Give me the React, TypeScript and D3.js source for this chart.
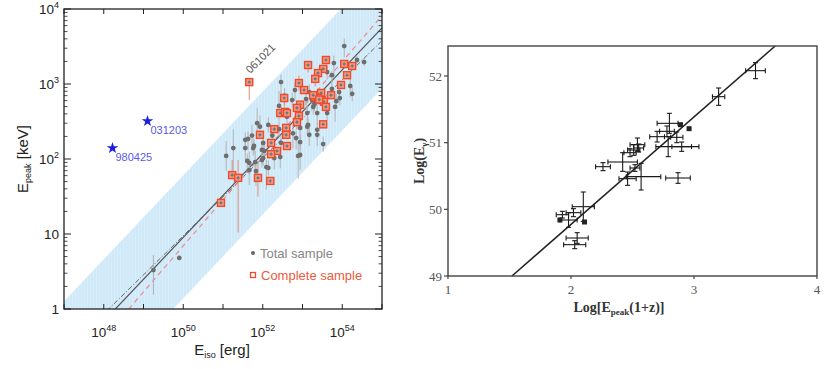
import React from 'react';
import * as d3 from 'd3';

// ---------- left panel: Epeak vs Eiso (log Eiso, Epeak keV, err lo dex, err hi dex)
const totalSample: [number, number, number, number][] = [
  [54.05, 3200, 0.15, 0.1], [53.79, 1900, 0.2, 0.1], [54.37, 2090, 0.05, 0.05], [54.55, 1960, 0.05, 0.05],
  [53.62, 1440, 0.1, 0.1], [53.74, 1310, 0.1, 0.05], [54.2, 940, 0.15, 0.1], [54.25, 740, 0.1, 0.1],
  [52.46, 1060, 0.25, 0.1], [52.81, 830, 0.15, 0.1], [53.17, 780, 0.1, 0.1], [53.74, 860, 0.1, 0.1],
  [53.92, 780, 0.1, 0.05], [53.24, 610, 0.1, 0.1], [53.09, 630, 0.15, 0.1], [53.94, 650, 0.1, 0.1],
  [52.41, 510, 0.2, 0.2], [52.74, 610, 0.1, 0.1], [53.27, 495, 0.1, 0.1], [53.82, 495, 0.2, 0.1],
  [53.37, 410, 0.15, 0.1], [53.12, 410, 0.1, 0.1], [52.61, 365, 0.1, 0.1], [53.62, 410, 0.1, 0.1],
  [52.94, 260, 0.15, 0.1], [53.12, 270, 0.1, 0.1], [53.37, 245, 0.1, 0.1], [52.76, 220, 0.2, 0.1],
  [53.17, 210, 0.15, 0.1], [51.86, 300, 0.2, 0.2], [51.93, 270, 0.15, 0.15], [51.73, 205, 0.2, 0.15],
  [51.63, 185, 0.15, 0.1], [51.56, 180, 0.1, 0.1], [51.26, 140, 0.3, 0.25], [51.56, 140, 0.15, 0.1],
  [51.08, 110, 0.2, 0.2], [51.76, 140, 0.1, 0.1], [51.98, 132, 0.15, 0.1], [51.81, 91, 0.2, 0.15],
  [51.66, 89, 0.15, 0.15], [52.01, 103, 0.1, 0.1], [52.09, 78, 0.3, 0.1], [52.14, 76, 0.1, 0.1],
  [52.44, 106, 0.15, 0.1], [52.94, 113, 0.2, 0.15], [53.52, 158, 0.1, 0.1], [51.66, 71, 0.2, 0.1],
  [51.78, 149, 0.1, 0.1], [52.01, 164, 0.15, 0.1], [51.61, 94, 0.15, 0.1], [51.83, 69, 0.2, 0.1],
  [51.98, 97, 0.1, 0.1], [52.04, 128, 0.1, 0.1], [52.29, 103, 0.15, 0.1], [52.89, 110, 0.3, 0.2],
  [52.94, 168, 0.1, 0.1], [52.84, 190, 0.15, 0.1], [53.14, 285, 0.15, 0.1], [53.37, 210, 0.15, 0.1],
  [52.41, 250, 0.1, 0.1], [52.24, 205, 0.1, 0.1], [52.46, 164, 0.1, 0.1], [52.14, 285, 0.1, 0.1],
  [53.85, 590, 0.1, 0.1], [53.3, 545, 0.1, 0.1], [52.55, 700, 0.15, 0.1],
  [49.25, 3.3, 0.33, 0.2], [49.9, 4.8, 0.02, 0.02],
];

const completeSample: [number, number, number, number][] = [
  [51.66, 1060, 0.24, 0.02], [53.59, 2090, 0.05, 0.05], [53.14, 1790, 0.1, 0.05], [53.52, 1590, 0.05, 0.05],
  [53.39, 1400, 0.05, 0.05], [54.05, 1850, 0.05, 0.05], [54.25, 1740, 0.05, 0.05], [54.12, 1310, 0.05, 0.05],
  [53.32, 1170, 0.1, 0.05], [53.97, 970, 0.05, 0.05], [52.91, 1030, 0.1, 0.1], [53.04, 830, 0.05, 0.05],
  [53.47, 760, 0.05, 0.05], [53.32, 670, 0.1, 0.05], [53.39, 650, 0.05, 0.05], [53.49, 610, 0.05, 0.05],
  [53.72, 710, 0.05, 0.05], [53.54, 580, 0.05, 0.05], [53.59, 495, 0.05, 0.05], [52.54, 650, 0.1, 0.05],
  [52.94, 530, 0.05, 0.05], [52.86, 480, 0.05, 0.05], [52.44, 410, 0.05, 0.05], [52.56, 425, 0.05, 0.05],
  [52.61, 410, 0.05, 0.05], [52.91, 375, 0.05, 0.05], [52.86, 310, 0.1, 0.05], [53.52, 290, 0.05, 0.05],
  [52.29, 250, 0.05, 0.05], [51.93, 210, 0.05, 0.05], [52.59, 260, 0.05, 0.05], [52.59, 210, 0.05, 0.05],
  [52.21, 164, 0.05, 0.05], [52.61, 149, 0.05, 0.05], [52.36, 128, 0.05, 0.05], [52.21, 116, 0.05, 0.05],
  [51.23, 61, 0.05, 0.2], [51.38, 56, 0.73, 0.24], [51.88, 56, 0.25, 0.2], [52.19, 51, 0.05, 0.05],
  [50.95, 26, 0.05, 0.05], [53.27, 710, 0.05, 0.05], [53.42, 620, 0.05, 0.05],
];

const outliers = [
  { name: '980425', logEiso: 48.22, epeak: 140 },
  { name: '031203', logEiso: 49.1, epeak: 320 },
];
const labelled061021 = { name: '061021', logEiso: 51.66, epeak: 1060 };

// [log Eiso, Epeak] endpoints
const bandUpper: [number, number][] = [[47, 1.27], [55, 38000]];
const bandLower: [number, number][] = [[47, 0.029], [55, 870]];
const fitTotal: [number, number][] = [[47, 0.19], [55, 5600]];
const fitDashDot: [number, number][] = [[47, 0.26], [55, 3780]];
const fitComplete: [number, number][] = [[47, 0.1], [55, 8160]];

const xDecades = d3.range(47, 56);
const xLabelExps = [48, 50, 52, 54];
const yDecades = [0, 1, 2, 3, 4];

// ---------- right panel: Log(Eγ) vs Log[Epeak(1+z)]  (x, y, xerr lo, xerr hi, yerr)
const ghirlanda: [number, number, number, number, number][] = [
  [3.5, 52.08, 0.08, 0.08, 0.12], [3.2, 51.69, 0.05, 0.05, 0.13], [2.8, 51.29, 0.1, 0.07, 0.15],
  [2.78, 51.17, 0.06, 0.06, 0.08], [2.7, 51.09, 0.06, 0.06, 0.08], [2.86, 51.08, 0.05, 0.05, 0.08],
  [2.79, 50.94, 0.1, 0.25, 0.15], [2.9, 50.94, 0.08, 0.08, 0.07], [2.54, 50.97, 0.06, 0.06, 0.1],
  [2.51, 50.89, 0.05, 0.05, 0.08], [2.55, 50.92, 0.04, 0.04, 0.06], [2.48, 50.85, 0.05, 0.05, 0.06],
  [2.26, 50.64, 0.06, 0.06, 0.06], [2.42, 50.71, 0.12, 0.12, 0.14], [2.52, 50.62, 0.04, 0.04, 0.05],
  [2.46, 50.46, 0.07, 0.07, 0.1], [2.57, 50.49, 0.12, 0.16, 0.2], [2.87, 50.47, 0.1, 0.1, 0.08],
  [2.1, 50.04, 0.09, 0.09, 0.22], [2.02, 49.95, 0.06, 0.06, 0.06], [1.93, 49.92, 0.05, 0.05, 0.05],
  [1.98, 49.84, 0.07, 0.07, 0.11], [2.05, 49.57, 0.09, 0.09, 0.08], [2.03, 49.47, 0.09, 0.09, 0.06],
];
const ghirlandaSquares: [number, number][] = [[2.89, 51.27], [2.96, 51.21], [1.91, 49.84], [2.11, 49.81]];
const ghirlandaFit: [number, number][] = [[1.52, 49], [3.66, 52.45]];
const rxTicks = [1, 2, 3, 4];
const ryTicks = [49, 50, 51, 52];

const sans = '"Liberation Sans", Arial, sans-serif';
const serif = '"Liberation Serif", "Times New Roman", serif';

function LeftPanel() {
  const L = { l: 64, r: 382, t: 9, b: 309 };
  const x = d3.scaleLog().domain([1e47, 1e55]).range([L.l, L.r]);
  const y = d3.scaleLog().domain([1, 1e4]).range([L.b, L.t]);
  const px = (le: number) => x(Math.pow(10, le));
  const line = d3.line<[number, number]>().x((d) => px(d[0])).y((d) => y(d[1]));
  const band = [...bandUpper, ...bandLower.slice().reverse()];
  const minors: number[] = [];
  yDecades.slice(0, -1).forEach((e) => {
    for (let k = 2; k <= 9; k++) minors.push(k * Math.pow(10, e));
  });
  const err = (d: [number, number, number, number]) => ({
    x: px(d[0]),
    y1: y(d[1] / Math.pow(10, d[2])),
    y2: y(d[1] * Math.pow(10, d[3])),
  });

  return (
    <g>
      <defs>
        <clipPath id="lclip">
          <rect x={L.l} y={L.t} width={L.r - L.l} height={L.b - L.t} />
        </clipPath>
        <pattern id="stripes" width="3" height="10" patternUnits="userSpaceOnUse">
          <rect width="3" height="10" fill="#d0e9f9" />
          <rect width="1" height="10" fill="#d9eefb" />
        </pattern>
      </defs>
      <g clipPath="url(#lclip)">
        <path d={line(band as [number, number][]) + 'Z'} fill="url(#stripes)" />
        <path d={line(fitDashDot)!} stroke="#666" strokeWidth={1} strokeDasharray="5,2,1,2" fill="none" />
        <path d={line(fitComplete)!} stroke="#f08a8a" strokeWidth={1.2} strokeDasharray="5,4" fill="none" />
        <path d={line(fitTotal)!} stroke="#555" strokeWidth={1.2} fill="none" />
        {totalSample.map((d, i) => {
          const e = err(d);
          return <line key={'te' + i} x1={e.x} x2={e.x} y1={e.y1} y2={e.y2} stroke="#b3b3b3" strokeWidth={1} />;
        })}
        {completeSample.map((d, i) => {
          const e = err(d);
          return <line key={'ce' + i} x1={e.x} x2={e.x} y1={e.y1} y2={e.y2} stroke="#e48a78" strokeWidth={1} />;
        })}
        {totalSample.map((d, i) => (
          <circle key={'t' + i} cx={px(d[0])} cy={y(d[1])} r={2.4} fill="#6e6e6e" />
        ))}
        {completeSample.map((d, i) => {
          const cx = px(d[0]);
          const cy = y(d[1]);
          return (
            <g key={'c' + i}>
              <rect x={cx - 3.5} y={cy - 3.5} width={7} height={7} fill="#f59a83" stroke="#ee4a2c" strokeWidth={1.4} />
              <line x1={cx - 2} x2={cx + 2} y1={cy} y2={cy} stroke="#888" strokeWidth={0.8} />
              <line x1={cx} x2={cx} y1={cy - 2} y2={cy + 2} stroke="#888" strokeWidth={0.8} />
              <circle cx={cx} cy={cy} r={1.3} fill="#777" />
            </g>
          );
        })}
      </g>
      {outliers.map((o) => (
        <g key={o.name}>
          <path
            d={d3.symbol(d3.symbolStar, 42)()!}
            transform={`translate(${px(o.logEiso)},${y(o.epeak)})`}
            fill="#1d1de0"
          />
          <text x={px(o.logEiso) + 3} y={y(o.epeak) + 13} fontSize={11} fill="#5a5ae6" fontFamily={sans}>
            {o.name}
          </text>
        </g>
      ))}
      <text
        transform={`translate(${px(labelled061021.logEiso) + 1},${y(labelled061021.epeak) - 8}) rotate(-45)`}
        fontSize={11}
        fill="#555"
        fontFamily={sans}
      >
        {labelled061021.name}
      </text>

      {/* legend */}
      <circle cx={253} cy={253} r={2} fill="#666" />
      <text x={260} y={258} fontSize={13} fill="#858585" fontFamily={sans}>Total sample</text>
      <rect x={250.5} y={272.5} width={5} height={5} fill="#fff" stroke="#ee4a2c" strokeWidth={1.3} />
      <text x={261} y={280} fontSize={13} fill="#ec5a3c" fontFamily={sans}>Complete sample</text>

      {/* frame & ticks */}
      <rect x={L.l} y={L.t} width={L.r - L.l} height={L.b - L.t} fill="none" stroke="#222" strokeWidth={1.3} />
      {xDecades.map((e) => (
        <g key={'xd' + e}>
          <line x1={px(e)} x2={px(e)} y1={L.b} y2={L.b - 5} stroke="#222" />
          <line x1={px(e)} x2={px(e)} y1={L.t} y2={L.t + 5} stroke="#222" />
        </g>
      ))}
      {yDecades.map((e) => (
        <g key={'yd' + e}>
          <line x1={L.l} x2={L.l + 7} y1={y(Math.pow(10, e))} y2={y(Math.pow(10, e))} stroke="#222" />
          <line x1={L.r} x2={L.r - 7} y1={y(Math.pow(10, e))} y2={y(Math.pow(10, e))} stroke="#222" />
        </g>
      ))}
      {minors.map((v) => (
        <g key={'ym' + v}>
          <line x1={L.l} x2={L.l + 3.5} y1={y(v)} y2={y(v)} stroke="#222" strokeWidth={0.8} />
          <line x1={L.r} x2={L.r - 3.5} y1={y(v)} y2={y(v)} stroke="#222" strokeWidth={0.8} />
        </g>
      ))}
      {xLabelExps.map((e) => (
        <text key={'xl' + e} x={px(e)} y={337} textAnchor="middle" fontSize={13.5} fill="#222" fontFamily={sans}>
          10<tspan dy={-6} fontSize={9}>{e}</tspan>
        </text>
      ))}
      {yDecades.map((e) => (
        <text key={'yl' + e} x={59} y={y(Math.pow(10, e)) + 5} textAnchor="end" fontSize={13.5} fill="#222" fontFamily={sans}>
          {e === 0 ? '1' : e === 1 ? '10' : (
            <>
              10<tspan dy={-6} fontSize={9}>{e}</tspan>
            </>
          )}
        </text>
      ))}
      <text x={222} y={355} textAnchor="middle" fontSize={15} fill="#222" fontFamily={sans}>
        E<tspan dy={3} fontSize={9}>iso</tspan>
        <tspan dy={-3}> [erg]</tspan>
      </text>
      <text transform="translate(28,159) rotate(-90)" textAnchor="middle" fontSize={15} fill="#222" fontFamily={sans}>
        E<tspan dy={3} fontSize={9}>peak</tspan>
        <tspan dy={-3}> [keV]</tspan>
      </text>
    </g>
  );
}

function RightPanel() {
  const R = { l: 448, r: 817, t: 46, b: 276 };
  const x = d3.scaleLinear().domain([1, 4]).range([R.l, R.r]);
  const y = d3.scaleLinear().domain([49, 52.45]).range([R.b, R.t]);
  const line = d3.line<[number, number]>().x((d) => x(d[0])).y((d) => y(d[1]));
  const cap = 2.5;
  return (
    <g>
      <path d={line(ghirlandaFit)!} stroke="#222" strokeWidth={1.6} fill="none" />
      {ghirlanda.map((d, i) => {
        const cx = x(d[0]);
        const cy = y(d[1]);
        const x1 = x(d[0] - d[2]);
        const x2 = x(d[0] + d[3]);
        const y1 = y(d[1] - d[4]);
        const y2 = y(d[1] + d[4]);
        return (
          <g key={'g' + i} stroke="#1a1a1a" strokeWidth={1.1}>
            <line x1={x1} x2={x2} y1={cy} y2={cy} />
            <line x1={cx} x2={cx} y1={y1} y2={y2} />
            <line x1={x1} x2={x1} y1={cy - cap} y2={cy + cap} />
            <line x1={x2} x2={x2} y1={cy - cap} y2={cy + cap} />
            <line x1={cx - cap} x2={cx + cap} y1={y1} y2={y1} />
            <line x1={cx - cap} x2={cx + cap} y1={y2} y2={y2} />
          </g>
        );
      })}
      {ghirlandaSquares.map((d, i) => (
        <rect key={'s' + i} x={x(d[0]) - 2.5} y={y(d[1]) - 2.5} width={5} height={5} fill="#222" />
      ))}
      <rect x={R.l} y={R.t} width={R.r - R.l} height={R.b - R.t} fill="none" stroke="#444" strokeWidth={1.4} />
      {rxTicks.map((t) => (
        <g key={'rx' + t}>
          <line x1={x(t)} x2={x(t)} y1={R.b} y2={R.b + 3} stroke="#444" strokeWidth={1.2} />
          <text x={x(t)} y={294} textAnchor="middle" fontSize={13} fill="#555" fontFamily={serif}>{t}</text>
        </g>
      ))}
      {ryTicks.map((t) => (
        <g key={'ry' + t}>
          <line x1={R.l} x2={R.l - 4} y1={y(t)} y2={y(t)} stroke="#444" strokeWidth={1.2} />
          <text x={442} y={y(t) + 4.5} textAnchor="end" fontSize={13} fill="#555" fontFamily={serif}>{t}</text>
        </g>
      ))}
      <text x={619} y={312} textAnchor="middle" fontSize={14} fontWeight="bold" fill="#333" fontFamily={serif}>
        Log[E<tspan dy={3} fontSize={9}>peak</tspan>
        <tspan dy={-3}>(1+z)]</tspan>
      </text>
      <text transform="translate(424,161) rotate(-90)" textAnchor="middle" fontSize={14} fontWeight="bold" fill="#333" fontFamily={serif}>
        Log(E<tspan dy={3} fontSize={9}>γ</tspan>
        <tspan dy={-3}>)</tspan>
      </text>
    </g>
  );
}

export default function App() {
  return (
    <div style={{ position: 'absolute', left: 0, top: 0 }}>
      <svg width={830} height={369} style={{ display: 'block', background: '#fff' }}>
        <LeftPanel />
        <RightPanel />
      </svg>
    </div>
  );
}
